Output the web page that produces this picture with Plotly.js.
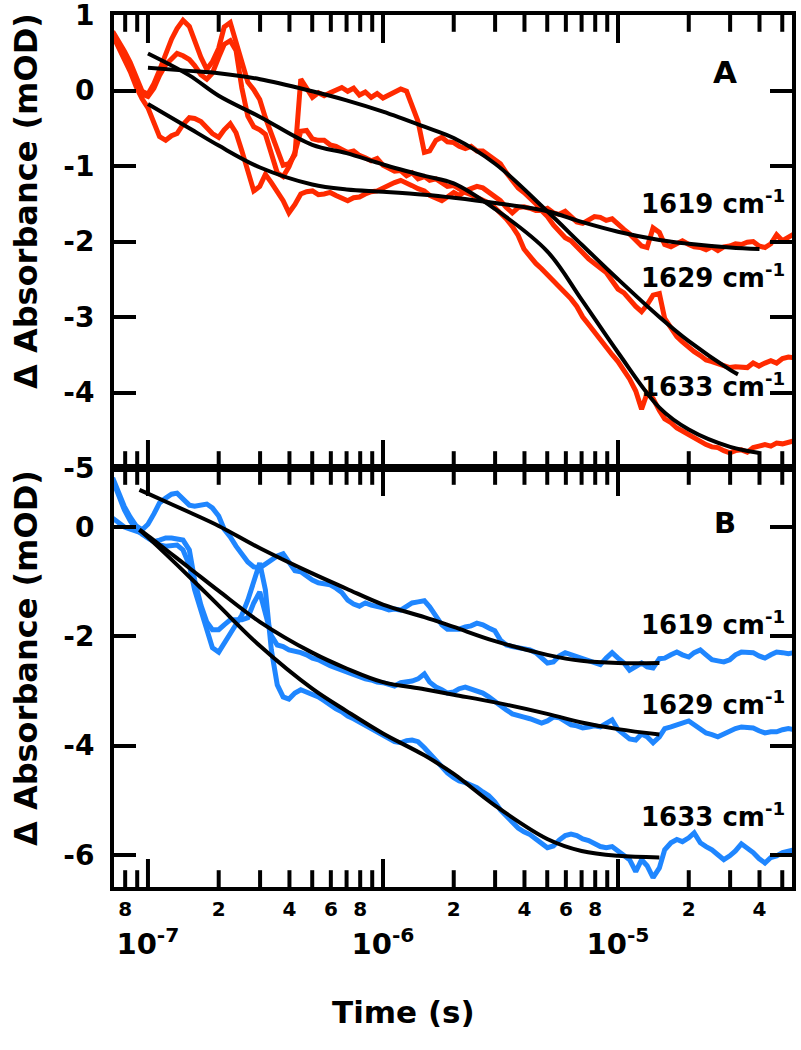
<!DOCTYPE html>
<html>
<head>
<meta charset="utf-8">
<script src="https://cdn.plot.ly/plotly-3.0.1.min.js"></script>
<style>
  html, body { margin: 0; padding: 0; background: #ffffff; }
  #chart { width: 801px; height: 1050px; }
</style>
</head>
<body>
<div id="chart"></div>
<script>
// ---------------- data (time in s, ΔA in mOD) ----------------
const times = [
  7.08e-8,7.50e-8,7.94e-8,8.41e-8,8.91e-8,9.44e-8,
  1.00e-7,1.06e-7,1.12e-7,1.19e-7,1.26e-7,1.33e-7,1.41e-7,1.50e-7,1.58e-7,1.68e-7,
  1.78e-7,1.88e-7,2.00e-7,2.11e-7,2.24e-7,2.37e-7,2.51e-7,2.66e-7,2.82e-7,2.99e-7,
  3.16e-7,3.35e-7,3.55e-7,3.76e-7,3.98e-7,4.22e-7,4.47e-7,4.73e-7,5.01e-7,5.31e-7,
  5.62e-7,5.96e-7,6.31e-7,6.68e-7,7.08e-7,7.50e-7,7.94e-7,8.41e-7,8.91e-7,9.44e-7,
  1.00e-6,1.06e-6,1.12e-6,1.19e-6,1.26e-6,1.33e-6,1.41e-6,1.50e-6,1.58e-6,1.68e-6,
  1.78e-6,1.88e-6,2.00e-6,2.11e-6,2.24e-6,2.37e-6,2.51e-6,2.66e-6,2.82e-6,2.99e-6,
  3.16e-6,3.35e-6,3.55e-6,3.76e-6,3.98e-6,4.22e-6,4.47e-6,4.73e-6,5.01e-6,5.31e-6,
  5.62e-6,5.96e-6,6.31e-6,6.68e-6,7.08e-6,7.50e-6,7.94e-6,8.41e-6,8.91e-6,9.44e-6,
  1.00e-5,1.06e-5,1.12e-5,1.19e-5,1.26e-5,1.33e-5,1.41e-5,1.50e-5,1.58e-5,1.68e-5,
  1.78e-5,1.88e-5,2.00e-5,2.11e-5,2.24e-5,2.37e-5,2.51e-5,2.66e-5,2.82e-5,2.99e-5,
  3.16e-5,3.35e-5,3.55e-5,3.76e-5,3.98e-5,4.22e-5,4.47e-5,4.73e-5,5.01e-5,5.31e-5,5.62e-5
];

// Panel A (red) measured traces
const a1619 = [0.73,0.58,0.42,0.25,0.05,-0.11,-0.23,-0.45,-0.61,-0.66,
  -0.60,-0.57,-0.45,-0.36,-0.37,-0.41,-0.49,-0.57,-0.62,-0.52,
  -0.44,-0.56,-0.80,-1.09,-1.33,-1.27,-1.11,-1.22,-1.33,-1.46,
  -1.62,-1.51,-1.37,-1.34,-1.33,-1.38,-1.37,-1.35,-1.39,-1.42,
  -1.46,-1.42,-1.41,-1.37,-1.34,-1.33,-1.29,-1.26,-1.22,-1.19,
  -1.22,-1.26,-1.30,-1.33,-1.39,-1.42,-1.46,-1.41,-1.35,-1.39,
  -1.33,-1.30,-1.27,-1.29,-1.35,-1.42,-1.46,-1.55,-1.62,-1.55,
  -1.54,-1.56,-1.59,-1.59,-1.56,-1.62,-1.64,-1.60,-1.68,-1.74,
  -1.76,-1.72,-1.67,-1.68,-1.72,-1.70,-1.76,-1.84,-1.90,-1.98,
  -2.06,-2.08,-1.82,-1.88,-2.04,-2.07,-2.02,-1.99,-2.04,-2.07,
  -2.08,-2.11,-2.07,-2.12,-2.07,-2.06,-2.03,-2.04,-2.01,-2.00,
  -2.06,-2.08,-2.03,-1.91,-1.99,-1.94,-1.90];
const a1629 = [0.78,0.66,0.52,0.37,0.16,-0.01,-0.05,0.09,0.27,0.48,
  0.68,0.82,0.93,0.85,0.64,0.44,0.28,0.38,0.56,0.84,
  0.90,0.64,0.37,0.11,0.01,-0.12,-0.36,-0.58,-0.81,-0.99,
  -0.97,-0.85,0.15,0.04,-0.09,-0.03,-0.07,-0.03,0.00,0.04,
  -0.01,0.03,-0.06,-0.02,-0.09,-0.04,-0.10,-0.06,-0.02,0.02,
  -0.01,-0.19,-0.41,-0.82,-0.80,-0.66,-0.62,-0.68,-0.69,-0.74,
  -0.77,-0.74,-0.80,-0.80,-0.86,-0.93,-0.97,-1.09,-1.19,-1.29,
  -1.35,-1.42,-1.50,-1.59,-1.67,-1.78,-1.87,-1.95,-1.99,-2.06,
  -2.15,-2.23,-2.28,-2.35,-2.41,-2.52,-2.63,-2.68,-2.77,-2.86,
  -2.93,-2.84,-2.71,-2.69,-3.02,-3.16,-3.26,-3.33,-3.41,-3.46,
  -3.51,-3.57,-3.59,-3.62,-3.65,-3.67,-3.66,-3.67,-3.67,-3.61,
  -3.65,-3.61,-3.58,-3.61,-3.55,-3.53,-3.54];
const a1633 = [0.76,0.62,0.45,0.29,0.09,-0.05,-0.08,0.03,0.20,0.34,
  0.42,0.49,0.46,0.41,0.33,0.21,0.15,0.23,0.44,0.61,
  0.66,0.53,0.03,-0.34,-0.48,-0.52,-0.58,-0.82,-1.09,-1.14,
  -1.01,-0.82,-0.54,-0.53,-0.64,-0.66,-0.66,-0.72,-0.74,-0.78,
  -0.82,-0.80,-0.86,-0.89,-0.93,-0.90,-0.99,-1.03,-1.07,-1.06,
  -1.13,-1.09,-1.17,-1.14,-1.19,-1.17,-1.22,-1.27,-1.26,-1.31,
  -1.35,-1.38,-1.42,-1.45,-1.49,-1.55,-1.62,-1.70,-1.80,-1.92,
  -2.10,-2.20,-2.29,-2.36,-2.44,-2.52,-2.60,-2.67,-2.76,-2.86,
  -3.00,-3.10,-3.20,-3.32,-3.41,-3.50,-3.59,-3.71,-3.82,-3.98,
  -4.22,-4.01,-4.08,-4.24,-4.35,-4.40,-4.47,-4.51,-4.56,-4.60,
  -4.64,-4.69,-4.72,-4.73,-4.77,-4.80,-4.77,-4.76,-4.79,-4.73,
  -4.71,-4.69,-4.71,-4.67,-4.68,-4.66,-4.64];

// Panel B (blue) measured traces
const b1619 = [0.90,0.64,0.37,0.18,0.02,-0.05,0.05,0.24,0.44,0.53,
  0.60,0.62,0.51,0.40,0.38,0.40,0.42,0.35,0.20,-0.04,
  -0.18,-0.35,-0.51,-0.64,-0.73,-0.75,-0.68,-0.60,-0.53,-0.49,
  -0.66,-0.80,-0.82,-0.90,-0.97,-1.02,-1.04,-1.06,-1.12,-1.20,
  -1.34,-1.41,-1.45,-1.39,-1.43,-1.45,-1.48,-1.52,-1.50,-1.52,
  -1.45,-1.39,-1.37,-1.35,-1.46,-1.63,-1.79,-1.87,-1.88,-1.87,
  -1.83,-1.81,-1.76,-1.79,-1.85,-1.90,-2.07,-2.16,-2.19,-2.21,
  -2.21,-2.25,-2.30,-2.38,-2.49,-2.47,-2.36,-2.30,-2.34,-2.36,
  -2.40,-2.45,-2.49,-2.52,-2.40,-2.30,-2.40,-2.49,-2.62,-2.54,
  -2.49,-2.56,-2.58,-2.41,-2.40,-2.34,-2.29,-2.34,-2.38,-2.30,
  -2.25,-2.34,-2.43,-2.45,-2.47,-2.43,-2.34,-2.29,-2.30,-2.30,
  -2.36,-2.40,-2.34,-2.29,-2.30,-2.32,-2.30];
const b1629 = [0.16,0.07,0.00,-0.04,-0.07,-0.11,-0.20,-0.27,-0.24,-0.20,
  -0.20,-0.22,-0.24,-0.42,-0.97,-1.43,-1.74,-1.88,-1.88,-1.79,
  -1.70,-1.70,-1.70,-1.66,-1.39,-1.19,-1.61,-1.99,-2.16,-2.19,
  -2.25,-2.27,-2.30,-2.34,-2.40,-2.43,-2.49,-2.54,-2.58,-2.62,
  -2.65,-2.71,-2.74,-2.78,-2.80,-2.84,-2.85,-2.89,-2.91,-2.85,
  -2.84,-2.82,-2.78,-2.69,-2.84,-2.93,-2.98,-3.04,-3.02,-2.96,
  -2.93,-2.96,-3.00,-3.04,-3.11,-3.20,-3.27,-3.35,-3.42,-3.46,
  -3.48,-3.51,-3.55,-3.59,-3.55,-3.48,-3.49,-3.57,-3.62,-3.64,
  -3.68,-3.66,-3.64,-3.66,-3.59,-3.53,-3.71,-3.80,-3.88,-3.90,
  -3.79,-3.84,-3.95,-3.84,-3.69,-3.66,-3.62,-3.57,-3.55,-3.62,
  -3.71,-3.77,-3.80,-3.84,-3.79,-3.73,-3.69,-3.66,-3.66,-3.68,
  -3.73,-3.77,-3.75,-3.75,-3.71,-3.69,-3.71];
const b1633 = [0.86,0.59,0.31,0.11,-0.04,-0.13,-0.20,-0.29,-0.33,-0.35,
  -0.33,-0.33,-0.42,-0.70,-1.15,-1.52,-1.92,-2.21,-2.29,-2.12,
  -1.94,-1.79,-1.61,-1.34,-0.97,-0.66,-1.15,-2.25,-2.89,-3.11,
  -3.15,-3.04,-2.98,-3.02,-3.07,-3.11,-3.18,-3.26,-3.33,-3.38,
  -3.46,-3.51,-3.57,-3.64,-3.69,-3.75,-3.82,-3.88,-3.93,-3.95,
  -3.91,-3.90,-3.93,-4.04,-4.15,-4.26,-4.37,-4.50,-4.59,-4.65,
  -4.68,-4.72,-4.77,-4.85,-4.92,-5.03,-5.18,-5.29,-5.40,-5.51,
  -5.58,-5.63,-5.71,-5.78,-5.87,-5.84,-5.73,-5.65,-5.62,-5.65,
  -5.71,-5.74,-5.80,-5.85,-5.87,-5.85,-5.93,-6.02,-6.09,-6.31,
  -6.09,-6.20,-6.42,-6.24,-5.91,-5.78,-5.72,-5.76,-5.69,-5.60,
  -5.78,-5.85,-5.91,-6.00,-6.09,-6.02,-5.93,-5.80,-5.87,-5.96,
  -6.07,-6.15,-6.05,-6.02,-5.96,-5.93,-5.91];

// Fits
const fitTimeA = [1.00e-7,1.50e-7,2.00e-7,3.00e-7,5.00e-7,7.00e-7,1.00e-6,1.50e-6,2.00e-6,3.00e-6,5.00e-6,7.00e-6,1.00e-5,1.50e-5,2.00e-5,3.00e-5,4.00e-5];
const fitA1619 = [-0.18,-0.50,-0.73,-1.02,-1.245,-1.31,-1.34,-1.38,-1.42,-1.49,-1.60,-1.74,-1.87,-1.98,-2.03,-2.08,-2.10];
const fitA1633 = [0.49,0.20,-0.07,-0.35,-0.72,-0.83,-0.98,-1.13,-1.23,-1.57,-2.13,-2.77,-3.47,-4.20,-4.49,-4.72,-4.80];
const fitTimeA1629 = [1.00e-7,1.50e-7,2.00e-7,3.00e-7,5.00e-7,7.00e-7,1.00e-6,1.50e-6,2.00e-6,3.00e-6,5.00e-6,7.00e-6,1.00e-5,1.50e-5,2.00e-5,3.00e-5,3.24e-5];
const fitA1629 = [0.30,0.26,0.23,0.15,-0.01,-0.13,-0.28,-0.48,-0.63,-0.97,-1.60,-2.04,-2.50,-3.00,-3.32,-3.70,-3.76];

const fitTimeB = [9.20e-8,1.00e-7,1.50e-7,2.00e-7,3.00e-7,5.00e-7,7.00e-7,1.00e-6,1.50e-6,2.00e-6,3.00e-6,5.00e-6,7.00e-6,1.00e-5,1.50e-5];
const fitB1619 = [0.68,0.61,0.27,0.02,-0.39,-0.85,-1.13,-1.42,-1.65,-1.83,-2.09,-2.34,-2.45,-2.49,-2.49];
const fitB1629 = [-0.05,-0.16,-0.75,-1.17,-1.74,-2.30,-2.59,-2.84,-2.97,-3.07,-3.21,-3.42,-3.58,-3.70,-3.80];
const fitB1633 = [-0.05,-0.19,-0.91,-1.44,-2.18,-2.96,-3.37,-3.78,-4.18,-4.52,-5.10,-5.71,-5.93,-6.02,-6.05];

// Axis ticks and labels (times in s)
const timeRange = [7.17e-8, 5.50e-5];
const majorTicks = [1e-7, 1e-6, 1e-5];
const majorTickText = ['10<sup>-7</sup>', '10<sup>-6</sup>', '10<sup>-5</sup>'];
const minorTicks = [8e-8, 9e-8,
  2e-7, 3e-7, 4e-7, 5e-7, 6e-7, 7e-7, 8e-7, 9e-7,
  2e-6, 3e-6, 4e-6, 5e-6, 6e-6, 7e-6, 8e-6, 9e-6,
  2e-5, 3e-5, 4e-5, 5e-5];
const minorLabelVals = [8e-8, 2e-7, 4e-7, 6e-7, 8e-7, 2e-6, 4e-6, 6e-6, 8e-6, 2e-5, 4e-5];
const minorLabelText = ['8', '2', '4', '6', '8', '2', '4', '6', '8', '2', '4'];
const yRangeA = [-5, 1];
const yRangeB = [-6.59, 1.08];
const yTickValsA = [1, 0, -1, -2, -3, -4, -5];
const yTickTextA = ['1', '0', '-1', '-2', '-3', '-4', '-5'];
const yTickValsB = [0, -2, -4, -6];
const yTickTextB = ['0', '-2', '-4', '-6'];
const waveLabels = ['1619 cm<sup>-1</sup>', '1629 cm<sup>-1</sup>', '1633 cm<sup>-1</sup>'];
const yTitle = 'Δ Absorbance (mOD)';
const xTitle = 'Time (s)';

// ---------------- styles ----------------
const RED = '#ff2a00';
const BLUE = '#1f86ff';
const FAM = 'DejaVu Sans, Liberation Sans, Arial, sans-serif';
const boldFont = (size) => ({ family: FAM, size: size, color: '#000', weight: 'bold' });
const W = 801, H = 1050, MARGIN = { l: 114, r: 9, t: 15, b: 163 };
const SPLIT = 0.4805;
const MAJOR_LEN = 20, MINOR_LEN = 12, TICK_W = 4;
// logarithmic time scale: positions are log10(time)
const lg = (arr) => arr.map((v) => Math.log10(v));
const XRANGE = lg(timeRange);

function dataTrace(x, y, color, xa, ya) {
  return { type: 'scatter', mode: 'lines', x: lg(x), y: y, xaxis: xa, yaxis: ya,
    line: { color: color, width: 5 }, hoverinfo: 'skip', showlegend: false };
}
function fitTrace(x, y, xa, ya) {
  return { type: 'scatter', mode: 'lines', x: lg(x), y: y, xaxis: xa, yaxis: ya,
    line: { color: '#000', width: 4, shape: 'spline', smoothing: 1 }, hoverinfo: 'skip', showlegend: false };
}
// time-axis tick marks: vertical-line markers centred on the top and bottom
// frame edges of a panel; the plot-area clip keeps only the inward half
function tickMarkers(vals, lenPx, yRange, xa, ya) {
  const xs = [], ys = [];
  lg(vals).forEach((v) => { xs.push(v, v); ys.push(yRange[1], yRange[0]); });
  return { type: 'scatter', mode: 'markers', x: xs, y: ys, xaxis: xa, yaxis: ya, cliponaxis: true,
    marker: { symbol: 'line-ns', size: 2 * lenPx, color: '#000', line: { color: '#000', width: TICK_W } },
    hoverinfo: 'skip', showlegend: false };
}

const traces = [
  dataTrace(times, a1619, RED, 'x', 'y'),
  dataTrace(times, a1629, RED, 'x', 'y'),
  dataTrace(times, a1633, RED, 'x', 'y'),
  fitTrace(fitTimeA, fitA1619, 'x', 'y'),
  fitTrace(fitTimeA1629, fitA1629, 'x', 'y'),
  fitTrace(fitTimeA, fitA1633, 'x', 'y'),
  tickMarkers(majorTicks, MAJOR_LEN, yRangeA, 'x', 'y'),
  tickMarkers(minorTicks, MINOR_LEN, yRangeA, 'x', 'y'),
  dataTrace(times, b1619, BLUE, 'x2', 'y2'),
  dataTrace(times, b1629, BLUE, 'x2', 'y2'),
  dataTrace(times, b1633, BLUE, 'x2', 'y2'),
  tickMarkers(majorTicks, MAJOR_LEN, yRangeB, 'x2', 'y2'),
  tickMarkers(minorTicks, MINOR_LEN, yRangeB, 'x2', 'y2'),
  fitTrace(fitTimeB, fitB1619, 'x3', 'y2'),
  fitTrace(fitTimeB, fitB1629, 'x3', 'y2'),
  fitTrace(fitTimeB, fitB1633, 'x3', 'y2')
];

const common = { type: 'linear', range: XRANGE, showgrid: false, zeroline: false };
const baseY = {
  showgrid: false, zeroline: false, showline: true, linecolor: '#000', linewidth: 4, mirror: 'ticks',
  ticks: 'inside', ticklen: 22, tickwidth: TICK_W, tickcolor: '#000', tickmode: 'array',
  tickfont: boldFont(28), ticklabelstandoff: 10, ticklabeloverflow: 'allow'
};

const layout = {
  width: W, height: H,
  margin: MARGIN,
  paper_bgcolor: '#fff', plot_bgcolor: '#fff',
  showlegend: false,
  xaxis: Object.assign({}, common, { anchor: 'y', domain: [0, 1], showticklabels: false,
    showline: true, linecolor: '#000', linewidth: 4, mirror: true, ticks: '' }),
  xaxis2: Object.assign({}, common, { anchor: 'y2', domain: [0, 1],
    showline: true, linecolor: '#000', linewidth: 4, mirror: true, ticks: '',
    tickmode: 'array', tickvals: lg(majorTicks), ticktext: majorTickText,
    tickfont: boldFont(29), ticklabelstandoff: 28, ticklabeloverflow: 'allow' }),
  xaxis3: Object.assign({}, common, { anchor: 'y2', overlaying: 'x2', side: 'bottom',
    showline: false, ticks: '', tickmode: 'array', tickvals: lg(minorLabelVals), ticktext: minorLabelText,
    tickfont: boldFont(20), ticklabelstandoff: 8, ticklabeloverflow: 'allow' }),
  yaxis: Object.assign({}, baseY, { anchor: 'x', domain: [SPLIT, 1], range: yRangeA,
    tickvals: yTickValsA, ticktext: yTickTextA }),
  yaxis2: Object.assign({}, baseY, { anchor: 'x2', domain: [0, SPLIT], range: yRangeB,
    tickvals: yTickValsB, ticktext: yTickTextB }),
  annotations: [
    { text: yTitle, xref: 'paper', yref: 'paper', x: -0.1298, y: 0.7867, textangle: -90,
      showarrow: false, xanchor: 'center', yanchor: 'middle', font: boldFont(32) },
    { text: yTitle, xref: 'paper', yref: 'paper', x: -0.1298, y: 0.2626, textangle: -90,
      showarrow: false, xanchor: 'center', yanchor: 'middle', font: boldFont(32) },
    { text: xTitle, xref: 'paper', yref: 'paper', x: 0.4277, y: -0.1433,
      showarrow: false, xanchor: 'center', yanchor: 'middle', font: boldFont(31) },
    { text: 'A', xref: 'paper', yref: 'paper', x: 0.9012, y: 0.9346,
      showarrow: false, xanchor: 'center', yanchor: 'middle', font: boldFont(31) },
    { text: 'B', xref: 'paper', yref: 'paper', x: 0.9012, y: 0.4174,
      showarrow: false, xanchor: 'center', yanchor: 'middle', font: boldFont(29) },
    { text: waveLabels[0], xref: 'paper', yref: 'paper', x: 0.9926, y: 0.785,
      showarrow: false, xanchor: 'right', yanchor: 'middle', font: boldFont(26) },
    { text: waveLabels[1], xref: 'paper', yref: 'paper', x: 0.9926, y: 0.7007,
      showarrow: false, xanchor: 'right', yanchor: 'middle', font: boldFont(26) },
    { text: waveLabels[2], xref: 'paper', yref: 'paper', x: 0.9926, y: 0.5757,
      showarrow: false, xanchor: 'right', yanchor: 'middle', font: boldFont(26) },
    { text: waveLabels[0], xref: 'paper', yref: 'paper', x: 0.9926, y: 0.3028,
      showarrow: false, xanchor: 'right', yanchor: 'middle', font: boldFont(26) },
    { text: waveLabels[1], xref: 'paper', yref: 'paper', x: 0.9926, y: 0.2110,
      showarrow: false, xanchor: 'right', yanchor: 'middle', font: boldFont(26) },
    { text: waveLabels[2], xref: 'paper', yref: 'paper', x: 0.9926, y: 0.0826,
      showarrow: false, xanchor: 'right', yanchor: 'middle', font: boldFont(26) }
  ]
};

Plotly.newPlot('chart', traces, layout, { staticPlot: true, displayModeBar: false });
</script>
</body>
</html>
